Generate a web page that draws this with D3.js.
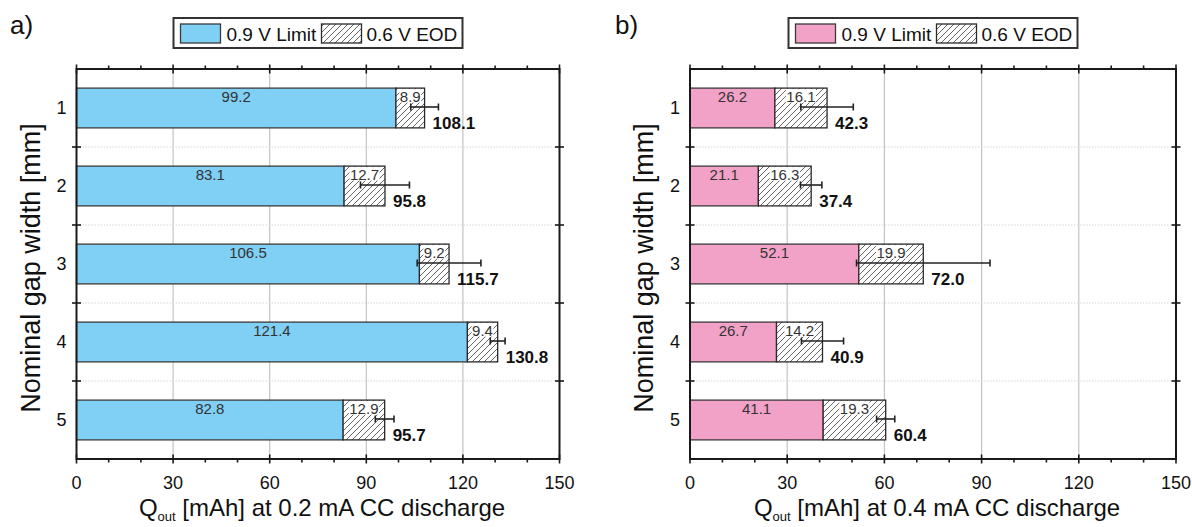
<!DOCTYPE html>
<html>
<head>
<meta charset="utf-8">
<script src="https://cdn.jsdelivr.net/npm/d3@7/dist/d3.min.js"></script>
<style>
  html, body { margin: 0; padding: 0; background: #fff; }
  text { font-family: "Liberation Sans", Arial, Helvetica, sans-serif; }
</style>
</head>
<body>
<svg id="chart" width="1192" height="527"></svg>
<script>
// ---- data ----
const categories = ["1", "2", "3", "4", "5"];
const limitA = [99.2, 83.1, 106.5, 121.4, 82.8];
const eodA   = [8.9, 12.7, 9.2, 9.4, 12.9];
const totalA = [108.1, 95.8, 115.7, 130.8, 95.7];
const errA   = [4.3, 7.6, 9.9, 2.3, 2.9];
const limitB = [26.2, 21.1, 52.1, 26.7, 41.1];
const eodB   = [16.1, 16.3, 19.9, 14.2, 19.3];
const totalB = [42.3, 37.4, 72.0, 40.9, 60.4];
const errB   = [8.1, 3.3, 20.6, 6.5, 2.8];
const xTicks = [0, 30, 60, 90, 120, 150];
const xMinorTicks = [10, 20, 40, 50, 70, 80, 100, 110, 130, 140];
const legendLabels = ["0.9 V Limit", "0.6 V EOD"];
const panelLabels = ["a)", "b)"];
const xTitleRest = [" [mAh] at 0.2 mA CC discharge", " [mAh] at 0.4 mA CC discharge"];
const yTitle = "Nominal gap width [mm]";

const svg = d3.select("#chart");
const defs = svg.append("defs");
const pat = defs.append("pattern").attr("id", "hatch")
  .attr("patternUnits", "userSpaceOnUse").attr("width", 6).attr("height", 6);
pat.append("rect").attr("width", 6).attr("height", 6).attr("fill", "#fff");
pat.append("path").attr("d", "M-1,1 l2,-2 M0,6 l6,-6 M5,7 l2,-2")
  .attr("stroke", "#555").attr("stroke-width", 0.9);

function panel(cfg) {
  const g = svg.append("g");
  const x = d3.scaleLinear().domain([0, 150]).range([cfg.x0, cfg.x1]);
  const y = d3.scaleBand().domain(categories).range([69, 459])
    .paddingInner(0.49).paddingOuter(0.245);
  const yTop = 69, yBot = 459;
  const step = y.step();
  const boundaries = categories.slice(1).map(c => y(c) - step * 0.245);

  // grid
  g.selectAll(".vg").data(xTicks.slice(1, -1)).enter().append("line")
    .attr("x1", d => x(d)).attr("x2", d => x(d)).attr("y1", yTop).attr("y2", yBot)
    .attr("stroke", "#c4c4c4").attr("stroke-width", 1.2);
  g.selectAll(".hg").data(boundaries).enter().append("line")
    .attr("x1", cfg.x0).attr("x2", cfg.x1).attr("y1", d => d).attr("y2", d => d)
    .attr("stroke", "#d6d6d6").attr("stroke-width", 1.2).attr("stroke-dasharray", "1.5,1.5");

  const rows = categories.map((c, i) => ({c, lim: cfg.limit[i], eod: cfg.eod[i], tot: cfg.total[i], err: cfg.err[i]}));

  // bars
  g.selectAll(".b1").data(rows).enter().append("rect")
    .attr("x", x(0)).attr("y", d => y(d.c))
    .attr("width", d => x(d.lim) - x(0)).attr("height", y.bandwidth())
    .attr("fill", cfg.color).attr("stroke", "#3a3a3a").attr("stroke-width", 1.3);
  g.selectAll(".b2").data(rows).enter().append("rect")
    .attr("x", d => x(d.lim)).attr("y", d => y(d.c))
    .attr("width", d => x(d.tot) - x(d.lim)).attr("height", y.bandwidth())
    .attr("fill", "url(#hatch)").attr("stroke", "#2a2a2a").attr("stroke-width", 1.3);

  // labels in coloured segment
  g.selectAll(".l1").data(rows).enter().append("text")
    .attr("x", d => (x(0) + x(d.lim)) / 2).attr("y", d => y(d.c) + 13.5)
    .attr("text-anchor", "middle").attr("font-size", 15).attr("fill", "#333")
    .text(d => d.lim.toFixed(1));
  // labels in hatch segment with white background
  rows.forEach(d => {
    const t = g.append("text")
      .attr("x", (x(d.lim) + x(d.tot)) / 2).attr("y", y(d.c) + 13.5)
      .attr("text-anchor", "middle").attr("font-size", 15).attr("fill", "#333")
      .text(d.eod.toFixed(1));
    const bb = t.node().getBBox();
    g.insert("rect", () => t.node())
      .attr("x", bb.x - 0.5).attr("y", y(d.c) + 1).attr("width", bb.width + 1)
      .attr("height", bb.y + bb.height - y(d.c) - 3).attr("fill", "#fff");
  });

  // error bars
  const eb = g.selectAll(".eb").data(rows).enter().append("g")
    .attr("stroke", "#222").attr("stroke-width", 1.6);
  const ey = d => y(d.c) + y.bandwidth() / 2 - 1;
  eb.append("line").attr("x1", d => x(d.tot - d.err)).attr("x2", d => x(d.tot + d.err))
    .attr("y1", ey).attr("y2", ey);
  eb.append("line").attr("x1", d => x(d.tot - d.err)).attr("x2", d => x(d.tot - d.err))
    .attr("y1", d => ey(d) - 3.5).attr("y2", d => ey(d) + 3.5);
  eb.append("line").attr("x1", d => x(d.tot + d.err)).attr("x2", d => x(d.tot + d.err))
    .attr("y1", d => ey(d) - 3.5).attr("y2", d => ey(d) + 3.5);

  // totals
  g.selectAll(".tl").data(rows).enter().append("text")
    .attr("x", d => x(d.tot) + 8).attr("y", d => y(d.c) + y.bandwidth() + 1.5)
    .attr("font-size", 17).attr("font-weight", "bold").attr("fill", "#111")
    .text(d => d.tot.toFixed(1));

  // frame
  g.append("rect").attr("x", cfg.x0).attr("y", yTop).attr("width", cfg.x1 - cfg.x0).attr("height", yBot - yTop)
    .attr("fill", "none").attr("stroke", "#1a1a1a").attr("stroke-width", 2);

  // ticks
  const tk = g.append("g").attr("stroke", "#1a1a1a").attr("stroke-width", 1.6);
  [yTop, yBot].forEach(yy => {
    tk.selectAll(null).data(xTicks).enter().append("line")
      .attr("x1", d => x(d)).attr("x2", d => x(d)).attr("y1", yy - 4.5).attr("y2", yy + 4.5);
  });
  tk.selectAll(null).data(xMinorTicks).enter().append("line")
    .attr("x1", d => x(d)).attr("x2", d => x(d)).attr("y1", yBot).attr("y2", yBot + 3.5);
  tk.selectAll(null).data(xMinorTicks).enter().append("line")
    .attr("x1", d => x(d)).attr("x2", d => x(d)).attr("y1", yTop - 3.5).attr("y2", yTop);
  [cfg.x0, cfg.x1].forEach(xx => {
    tk.selectAll(null).data(boundaries).enter().append("line")
      .attr("x1", xx - 4.5).attr("x2", xx + 4.5).attr("y1", d => d).attr("y2", d => d);
  });

  // tick labels
  g.selectAll(".xl").data(xTicks).enter().append("text")
    .attr("x", d => x(d)).attr("y", 489).attr("text-anchor", "middle")
    .attr("font-size", 18).attr("fill", "#111").text(d => d);
  g.selectAll(".yl").data(categories).enter().append("text")
    .attr("x", cfg.x0 - 10).attr("y", d => y(d) + y.bandwidth() / 2).attr("dy", "0.36em")
    .attr("text-anchor", "end").attr("font-size", 18).attr("fill", "#111").text(d => d);

  // axis titles
  const xt = g.append("text").attr("x", (cfg.x0 + cfg.x1) / 2 + 4).attr("y", 516)
    .attr("text-anchor", "middle").attr("font-size", 24).attr("fill", "#111");
  xt.append("tspan").text("Q");
  xt.append("tspan").attr("font-size", 13).attr("dy", 5).text("out");
  xt.append("tspan").attr("dy", -5).text(cfg.xTitle);

  g.append("text").attr("transform", `translate(${cfg.x0 - 46},268) rotate(-90)`)
    .attr("text-anchor", "middle").attr("dy", "0.35em").attr("font-size", 27).attr("fill", "#111")
    .text(yTitle);

  // panel label
  g.append("text").attr("x", cfg.labelX).attr("y", 34).attr("font-size", 26).attr("fill", "#111")
    .text(cfg.label);

  // legend
  const lx = (cfg.x0 + cfg.x1) / 2 - 144.5;
  const lg = g.append("g");
  lg.append("rect").attr("x", lx).attr("y", 18).attr("width", 289).attr("height", 30)
    .attr("fill", "#fff").attr("stroke", "#333").attr("stroke-width", 2);
  lg.append("rect").attr("x", lx + 7).attr("y", 24).attr("width", 40).attr("height", 19)
    .attr("fill", cfg.color).attr("stroke", "#3a3a3a").attr("stroke-width", 1.3);
  lg.append("text").attr("x", lx + 53).attr("y", 41).attr("font-size", 19).attr("fill", "#111")
    .text(legendLabels[0]);
  lg.append("rect").attr("x", lx + 148).attr("y", 24).attr("width", 40).attr("height", 19)
    .attr("fill", "url(#hatch)").attr("stroke", "#2a2a2a").attr("stroke-width", 1.3);
  lg.append("text").attr("x", lx + 193).attr("y", 41).attr("font-size", 19).attr("fill", "#111")
    .text(legendLabels[1]);
}

panel({x0: 76.5, x1: 559.5, limit: limitA, eod: eodA, total: totalA, err: errA,
  color: "#80cff4", label: panelLabels[0], labelX: 10, xTitle: xTitleRest[0]});
panel({x0: 690, x1: 1176, limit: limitB, eod: eodB, total: totalB, err: errB,
  color: "#f2a1c7", label: panelLabels[1], labelX: 615, xTitle: xTitleRest[1]});
</script>
</body>
</html>
